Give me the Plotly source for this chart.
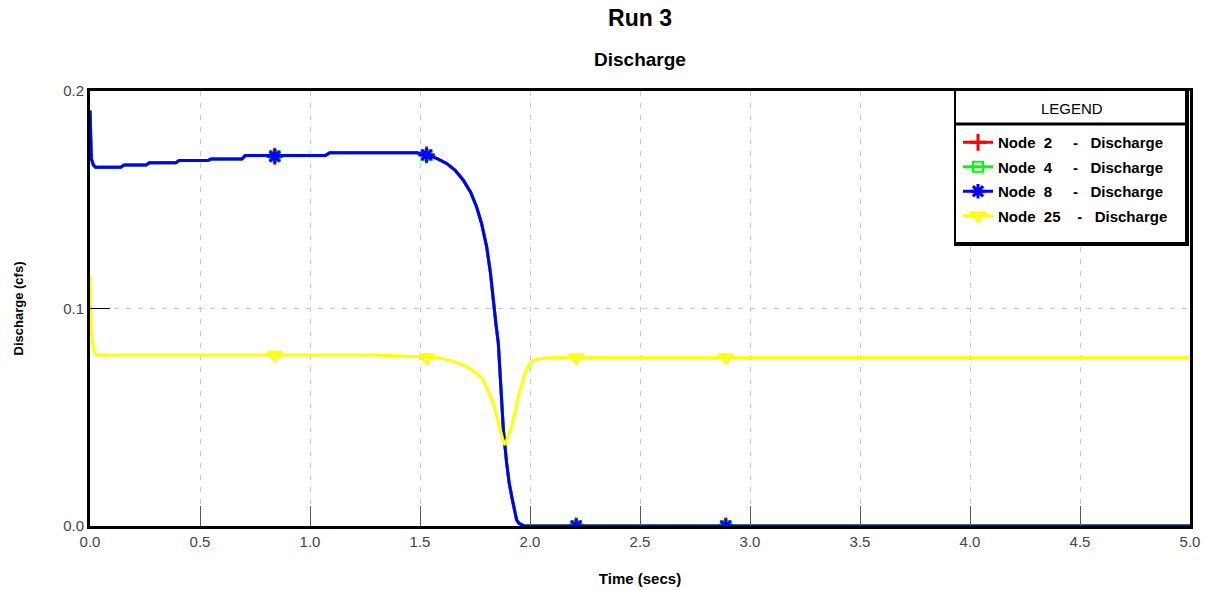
import plotly.graph_objects as go

# ---------------- data ----------------
time_node8 = [0.0, 0.002, 0.006, 0.015, 0.025, 0.14, 0.155, 0.255, 0.27, 0.39, 0.405,
              0.535, 0.55, 0.69, 0.705, 1.07, 1.09, 1.485, 1.53, 1.576, 1.621, 1.66,
              1.697, 1.73, 1.757, 1.78, 1.803, 1.82, 1.833, 1.845, 1.856, 1.868, 1.879,
              1.894, 1.905, 1.917, 1.928, 1.939, 1.95, 1.962, 1.975, 5.0]
q_node8 = [0.191, 0.175, 0.169, 0.166, 0.165, 0.165, 0.166, 0.166, 0.167, 0.167, 0.168,
           0.168, 0.1687, 0.1687, 0.1703, 0.1703, 0.1716, 0.1716, 0.1706, 0.169, 0.1667, 0.1635,
           0.159, 0.1535, 0.1468, 0.139, 0.1284, 0.1165, 0.1024, 0.093, 0.084, 0.064, 0.0441,
           0.0288, 0.020, 0.0135, 0.0075, 0.0028, 0.0012, 0.0005, 0.0, 0.0]

# Nodes 2 and 4 coincide with node 8 in the reference (hidden beneath it)
time_node2 = time_node8
q_node2 = q_node8
time_node4 = time_node8
q_node4 = q_node8

time_node25 = [0.0, 0.003, 0.006, 0.012, 0.02, 0.03, 1.3, 1.5, 1.59, 1.65, 1.712, 1.76,
               1.788, 1.81, 1.833, 1.85, 1.864, 1.876, 1.886, 1.895, 1.905, 1.917, 1.932,
               1.947, 1.962, 1.977, 1.995, 2.015, 2.076, 5.0]
q_node25 = [0.115, 0.100, 0.088, 0.084, 0.080, 0.0786, 0.0786, 0.0778, 0.0773, 0.0758, 0.0733, 0.070,
            0.0671, 0.062, 0.0565, 0.050, 0.0441, 0.040, 0.0372, 0.040, 0.0425, 0.0457, 0.053,
            0.0595, 0.065, 0.0702, 0.0740, 0.0763, 0.0774, 0.0774]

marker_time = [0.84, 1.53, 2.21, 2.89]
marker_q_node8 = [0.170, 0.1706, 0.0, 0.0]
marker_q_node2 = marker_q_node8
marker_q_node4 = marker_q_node8
marker_q_node25 = [0.0786, 0.0775, 0.0775, 0.0775]

NB = "\u00a0"
legend_names = ["Node" + NB * 2 + "2" + NB * 5 + "-" + NB * 3 + "Discharge",
                "Node" + NB * 2 + "4" + NB * 5 + "-" + NB * 3 + "Discharge",
                "Node" + NB * 2 + "8" + NB * 5 + "-" + NB * 3 + "Discharge",
                "Node" + NB * 2 + "25" + NB * 4 + "-" + NB * 3 + "Discharge"]

x_ticks = [0.0, 0.5, 1.0, 1.5, 2.0, 2.5, 3.0, 3.5, 4.0, 4.5, 5.0]
y_ticks = [0.0, 0.1, 0.2]

FONT = "Liberation Sans, Arial, sans-serif"

series = [
    (time_node2, q_node2, marker_q_node2, legend_names[0], "#ff0000",
     dict(symbol="cross-thin", size=12, line=dict(width=3, color="#ff0000"))),
    (time_node4, q_node4, marker_q_node4, legend_names[1], "#00ff00",
     dict(symbol="square-open", size=10, line=dict(width=2, color="#00ff00"))),
    (time_node8, q_node8, marker_q_node8, legend_names[2], "#0000ff",
     dict(symbol="asterisk", size=12, line=dict(width=3, color="#0000ff"))),
    (time_node25, q_node25, marker_q_node25, legend_names[3], "#ffff00",
     dict(symbol="triangle-down-open", size=12, line=dict(width=2.5, color="#ffff00"))),
]

fig = go.Figure()
for i, (t, q, mq, name, color, mk) in enumerate(series):
    grp = f"g{i}"
    fig.add_trace(go.Scatter(x=t, y=q, mode="lines", line=dict(color=color, width=3),
                             legendgroup=grp, showlegend=False, hoverinfo="skip"))
    fig.add_trace(go.Scatter(x=marker_time, y=mq, mode="markers", marker=dict(color=color, **mk),
                             legendgroup=grp, showlegend=False, hoverinfo="skip"))
    fig.add_trace(go.Scatter(x=[None], y=[None], mode="lines+markers", name=name,
                             line=dict(color=color, width=3), marker=dict(color=color, **mk),
                             legendgroup=grp, showlegend=True))

W, H = 1208, 590
L, R, T, B = 90, 18, 91, 64
pw, ph = W - L - R, H - T - B


def px(xp):
    return (xp - L) / pw


def py(yp):
    return (H - B - yp) / ph


shapes = [
    dict(type="rect", xref="paper", yref="paper", x0=px(955), x1=px(1188), y0=py(245), y1=py(90),
         line=dict(color="black", width=2), fillcolor="white", layer="above"),
    dict(type="line", xref="paper", yref="paper", x0=px(955), x1=px(1188), y0=py(124), y1=py(124),
         line=dict(color="black", width=3), layer="above"),
    dict(type="line", xref="paper", yref="paper", x0=px(1187), x1=px(1187), y0=py(90), y1=py(246),
         line=dict(color="black", width=4), layer="above"),
    dict(type="line", xref="paper", yref="paper", x0=px(955), x1=px(1189), y0=py(244), y1=py(244),
         line=dict(color="black", width=4), layer="above"),
]

annotations = [
    dict(text="<b>Discharge</b>", xref="paper", yref="paper", x=0.5, y=py(59),
         xanchor="center", yanchor="middle", showarrow=False,
         font=dict(family=FONT, size=19, color="black")),
    dict(text="LEGEND", xref="paper", yref="paper", x=px(1072), y=py(109),
         xanchor="center", yanchor="middle", showarrow=False,
         font=dict(family=FONT, size=15, color="black")),
]

fig.update_layout(
    width=W, height=H,
    margin=dict(l=L, r=R, t=T, b=B, autoexpand=False),
    paper_bgcolor="white", plot_bgcolor="white",
    font=dict(family=FONT, color="black"),
    title=dict(text="<b>Run 3</b>", x=0.5, xref="paper", xanchor="center",
               y=1 - 18 / H, yref="container", yanchor="middle",
               font=dict(family=FONT, size=23, color="black")),
    showlegend=True,
    legend=dict(x=px(958), y=py(126), xanchor="left", yanchor="top",
                bgcolor="rgba(0,0,0,0)", borderwidth=0, tracegroupgap=2, itemwidth=30,
                font=dict(family=FONT, size=15, color="black", weight="bold"), itemclick=False),
    shapes=shapes,
    annotations=annotations,
    xaxis=dict(range=[0, 5], tickvals=x_ticks, tickformat=".1f", automargin=False,
               showgrid=True, gridcolor="#c8c8c8", griddash="5px,7px", gridwidth=1,
               ticks="inside", ticklen=20, tickcolor="#555555", tickwidth=1,
               showline=True, linecolor="black", linewidth=3, mirror=True, zeroline=False,
               tickfont=dict(family=FONT, size=15, color="#444444"),
               title=dict(text="<b>Time (secs)</b>", standoff=25,
                          font=dict(family=FONT, size=15, color="black"))),
    yaxis=dict(range=[0, 0.2], tickvals=y_ticks, tickformat=".1f", automargin=False,
               showgrid=True, gridcolor="#c8c8c8", griddash="5px,7px", gridwidth=1,
               ticks="inside", ticklen=20, tickcolor="black", tickwidth=1,
               showline=True, linecolor="black", linewidth=3, mirror=True, zeroline=False,
               tickfont=dict(family=FONT, size=15, color="#444444"),
               title=dict(text="<b>Discharge (cfs)</b>", standoff=37,
                          font=dict(family=FONT, size=13, color="black"))),
)

fig.write_html("out.html", config={"displayModeBar": False},
               post_script="document.body.style.margin='0';")
